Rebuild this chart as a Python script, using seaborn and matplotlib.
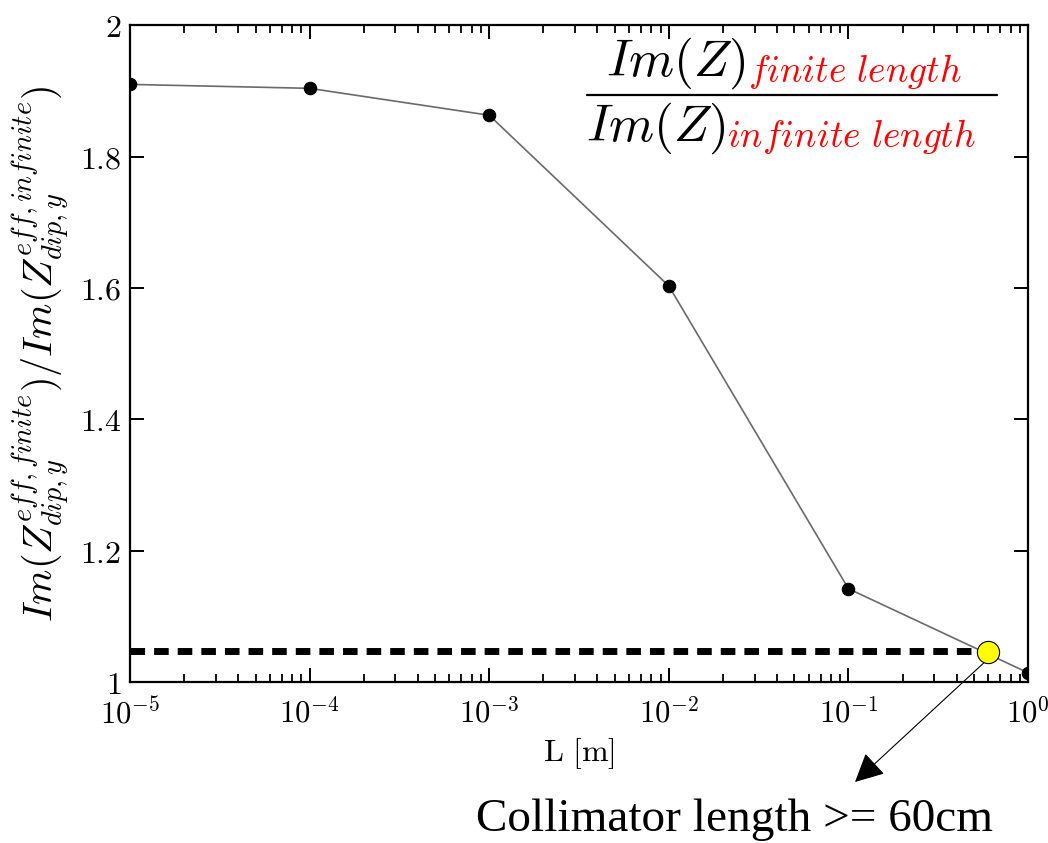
import numpy as np
import pandas as pd
import matplotlib
matplotlib.use("Agg")
import matplotlib.pyplot as plt
from matplotlib.ticker import FuncFormatter, FixedLocator, NullFormatter
import seaborn as sns

# Data
L_values = [1e-5, 1e-4, 1e-3, 1e-2, 1e-1, 1e0]
ratio_values = [1.910, 1.904, 1.863, 1.603, 1.142, 1.014]
threshold_ratio = 1.047
collimator_L = 0.6
collimator_ratio = 1.045
y_ticks = [1.0, 1.2, 1.4, 1.6, 1.8, 2.0]
x_major_exponents = [-5, -4, -3, -2, -1, 0]

sns.set_style("ticks", {"xtick.direction": "in", "ytick.direction": "in",
                        "xtick.color": "black", "ytick.color": "black",
                        "text.color": "black", "axes.labelcolor": "black"})
plt.rcParams["mathtext.fontset"] = "cm"
plt.rcParams["font.family"] = ["DejaVu Serif"]

df = pd.DataFrame({"L": L_values, "ratio": ratio_values})

fig = plt.figure(figsize=(10.48, 8.43), dpi=100)
ax = fig.add_axes([0.124, 0.191, 0.857, 0.779])

sns.lineplot(data=df, x="L", y="ratio", ax=ax, color="#6a6a6a", linewidth=1.2,
             marker="o", markersize=9, markerfacecolor="black", markeredgecolor="black",
             zorder=3)

ax.set_xscale("log")
ax.set_xlim(1e-5, 1e0)
ax.set_ylim(1.0, 2.0)

# threshold dashed line
ax.plot([1e-5, collimator_L], [threshold_ratio, threshold_ratio], color="black",
        linewidth=5, dashes=(2.1, 1.3), zorder=2, dash_capstyle="butt")
ax.plot([collimator_L], [collimator_ratio], marker="o", markersize=16,
        markerfacecolor="#ffff00", markeredgecolor="black", markeredgewidth=0.8, zorder=5,
        linestyle="none")

major_x = [10.0 ** e for e in x_major_exponents]
minor_x = [m * 10.0 ** e for e in x_major_exponents[:-1] for m in range(2, 10)]
ax.xaxis.set_major_locator(FixedLocator(major_x))
ax.xaxis.set_major_formatter(FuncFormatter(lambda v, p: r"$10^{%d}$" % round(np.log10(v))))
ax.xaxis.set_minor_locator(FixedLocator(minor_x))
ax.xaxis.set_minor_formatter(NullFormatter())
ax.yaxis.set_major_locator(FixedLocator(y_ticks))
ax.yaxis.set_major_formatter(FuncFormatter(lambda v, p: f"${v:g}$"))
ax.tick_params(axis="both", which="both", direction="in", top=True, right=True,
               width=1.4, color="black")
ax.tick_params(axis="both", which="major", length=10)
ax.tick_params(axis="x", which="minor", length=6, width=1.3)
ax.tick_params(axis="x", which="major", pad=12, labelsize=22)
ax.tick_params(axis="y", which="major", pad=6, labelsize=23)
for s in ax.spines.values():
    s.set_linewidth(1.6)
    s.set_color("black")

ax.set_xlabel(r"$\mathrm{L\ [m]}$", fontsize=23, labelpad=4)
ax.set_ylabel(r"$Im(Z^{eff,finite}_{dip,y})/Im(Z^{eff,infinite}_{dip,y})$",
              fontsize=29, labelpad=5)

# fraction in upper right (figure pixel coords)
W, H = 1048, 843
def fx(x): return x / W
def fy(y): return 1 - y / H

fig.text(fx(606), fy(76), r"$Im(Z)$", fontsize=37, color="black", ha="left", va="baseline")
fig.text(fx(748), fy(82), r"$finite\ length$", fontsize=27, color="red", ha="left", va="baseline")
fig.text(fx(586), fy(141), r"$Im(Z)$", fontsize=37, color="black", ha="left", va="baseline")
fig.text(fx(727), fy(147), r"$infinite\ length$", fontsize=27, color="red", ha="left", va="baseline")
fig.add_artist(plt.Line2D([fx(587), fx(997)], [fy(95), fy(95)], color="black",
                          linewidth=1.6, transform=fig.transFigure))

# annotation
ax.annotate("", xy=(fx(855), fy(782)), xycoords="figure fraction",
            xytext=(collimator_L * 0.97, collimator_ratio - 0.013), textcoords="data",
            arrowprops=dict(arrowstyle="-|>", mutation_scale=45, lw=0.8, color="black",
                            shrinkA=0, shrinkB=0),
            annotation_clip=False)
fig.text(fx(735), fy(820), "Collimator length >= 60cm", fontsize=34,
         family="Liberation Serif", ha="center", va="center", color="black")

fig.savefig("out.png", dpi=100)
